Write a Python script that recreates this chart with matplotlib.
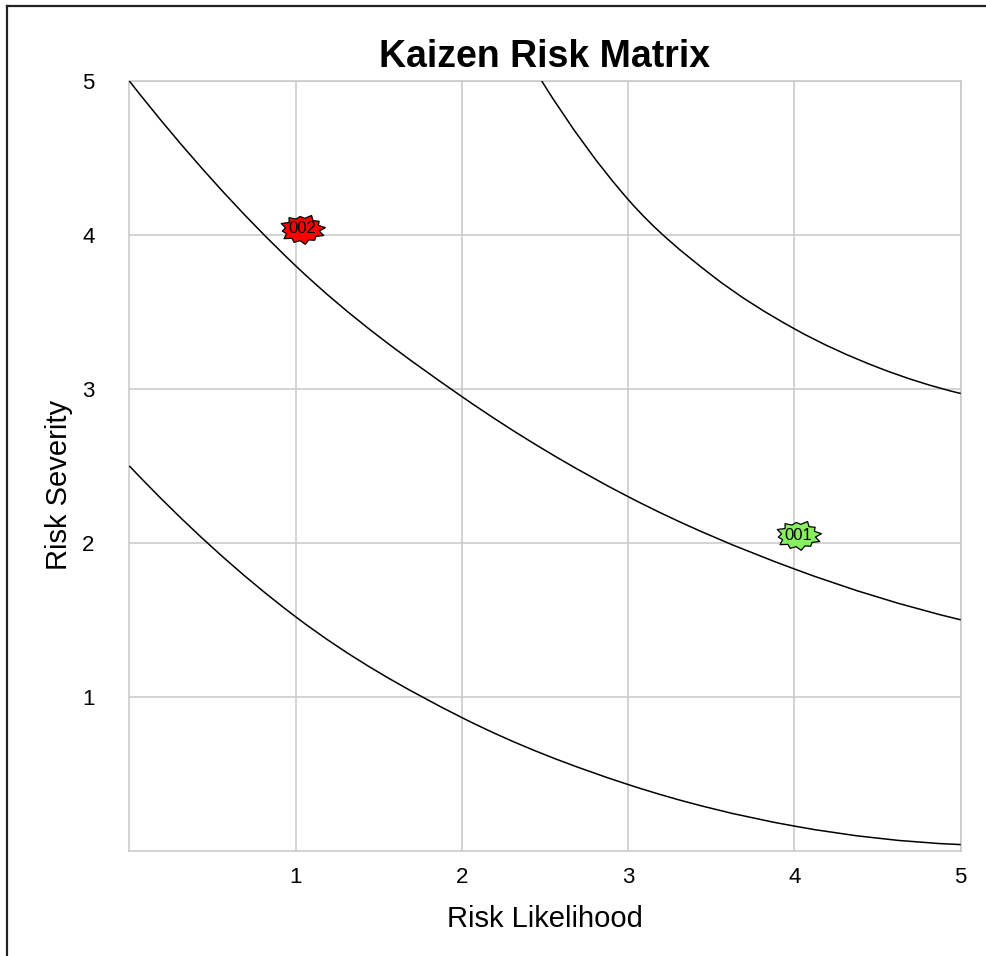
import matplotlib
matplotlib.use("Agg")
import matplotlib.pyplot as plt
from matplotlib.path import Path
from matplotlib.patches import PathPatch
from matplotlib.lines import Line2D
import numpy as np

plt.rcParams['font.family'] = ['Liberation Sans', 'DejaVu Sans']

# threshold curves
low_x = [0, 1, 2, 3, 4, 5]
low_y = [2.50, 1.52, 0.865, 0.43, 0.16, 0.04]

mid_x = [0, 1, 2, 3, 4, 5]
mid_y = [5.0, 3.80, 2.95, 2.30, 1.83, 1.50]

high_x = [2.48, 3, 3.5, 4, 4.5, 5]
high_y = [5.0, 4.23, 3.74, 3.39, 3.14, 2.97]

# risks
risk_ids = ["001", "002"]
likelihood = [4.02, 1.04]
severity = [2.05, 4.04]
risk_colors = ["#88F060", "#FF0000"]

ticks = [1, 2, 3, 4, 5]


def smooth_path(xs, ys):
    # cubic hermite drawn as bezier segments (smoothed line)
    x = np.asarray(xs, float)
    y = np.asarray(ys, float)
    n = len(x)
    sec = np.diff(y) / np.diff(x)
    m = np.empty(n)
    m[1:-1] = (y[2:] - y[:-2]) / (x[2:] - x[:-2])
    m[0] = 2 * sec[0] - m[1]
    m[-1] = 2 * sec[-1] - m[-2]
    verts = [(x[0], y[0])]
    codes = [Path.MOVETO]
    for i in range(n - 1):
        h = x[i + 1] - x[i]
        verts += [(x[i] + h / 3, y[i] + m[i] * h / 3),
                  (x[i + 1] - h / 3, y[i + 1] - m[i + 1] * h / 3),
                  (x[i + 1], y[i + 1])]
        codes += [Path.CURVE4] * 3
    return Path(verts, codes)


# "explosion" shape for the markers
outer = [1.0, 0.9, 1.0, 0.86, 0.97, 1.0, 0.88, 1.0, 0.92, 0.98, 0.88, 1.0]
pts = []
for k in range(24):
    a = np.pi * 2 * k / 24 + 0.12
    r = outer[k // 2] if k % 2 == 0 else 0.74
    pts.append((r * np.cos(a), 0.66 * r * np.sin(a)))
pts.append(pts[0])
star = Path(pts, closed=True)

fig = plt.figure(figsize=(9.87, 9.56), dpi=100)
ax = fig.add_axes([0.131, 0.1101, 0.8424, 0.8052])

for xs, ys in [(low_x, low_y), (mid_x, mid_y), (high_x, high_y)]:
    ax.add_patch(PathPatch(smooth_path(xs, ys), facecolor="none",
                           edgecolor="black", lw=1.1, zorder=3))

for rid, lx, sy, c in zip(risk_ids, likelihood, severity, risk_colors):
    ax.plot([lx], [sy], marker=star, markersize=33, color=c,
            markeredgecolor="black", markeredgewidth=0.9, zorder=4)
    ax.text(lx, sy, rid, ha="center", va="center", fontsize=12,
            color="black", zorder=5)

ax.set_xlim(0, 5)
ax.set_ylim(0, 5)
ax.set_xticks(ticks)
ax.set_yticks(ticks)
ax.grid(True, color="#C8C8C8", lw=1.1)
ax.set_axisbelow(True)
for s in ax.spines.values():
    s.set_color("#C8C8C8")
    s.set_linewidth(1.1)
ax.tick_params(length=0, labelsize=16, colors="black")
ax.tick_params(axis="x", pad=12)
ax.tick_params(axis="y", pad=25)

ax.set_title("Kaizen Risk Matrix", fontsize=27, fontweight="bold", pad=10)
ax.set_xlabel("Risk Likelihood", fontsize=21)
ax.set_ylabel("Risk Severity", fontsize=21)
ax.xaxis.set_label_coords(0.5, -0.0705)
ax.yaxis.set_label_coords(-0.068, 0.475)

# outer chart border (only left and top edges fall inside the picture)
fig.add_artist(Line2D([7 / 987, 7 / 987], [0, 1 - 6 / 956],
                      transform=fig.transFigure, color="#222222", lw=1.6))
fig.add_artist(Line2D([7 / 987, 1], [1 - 6 / 956, 1 - 6 / 956],
                      transform=fig.transFigure, color="#222222", lw=1.6))

fig.savefig("out.png", dpi=100)
